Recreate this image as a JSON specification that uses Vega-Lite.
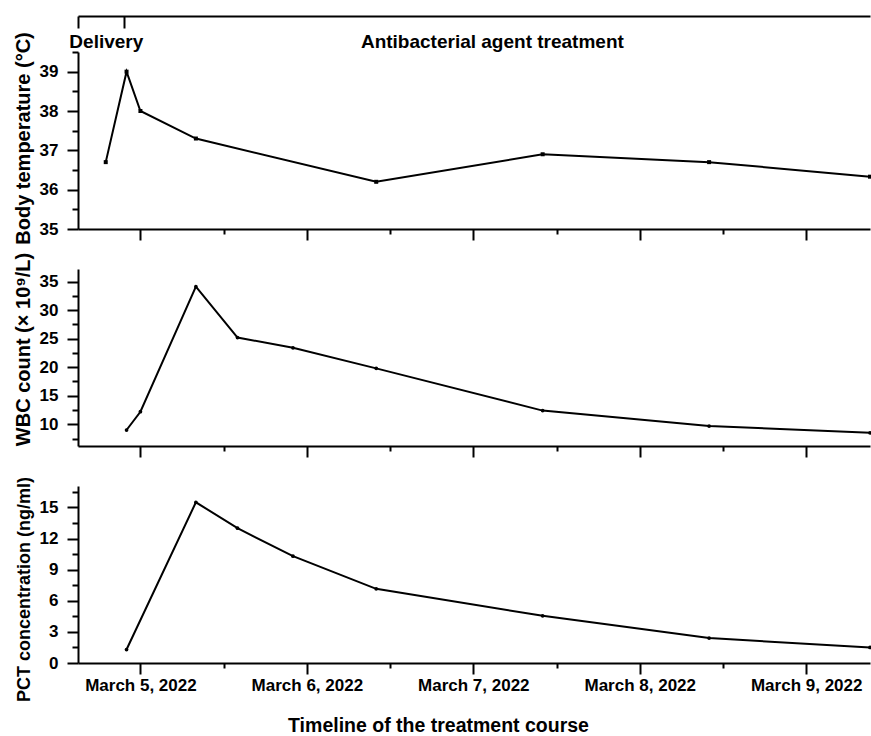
{
  "$schema": "https://vega.github.io/schema/vega-lite/v6.json",
  "padding": {"left": 13, "top": 15, "right": 0, "bottom": 0},
  "bounds": "flush",
  "spacing": 40,
  "datasets": {
    "temperature": [
      {"time": "2022-03-04T19:00", "temperature": 36.7},
      {"time": "2022-03-04T22:00", "temperature": 39.0},
      {"time": "2022-03-05T00:00", "temperature": 38.0},
      {"time": "2022-03-05T08:00", "temperature": 37.3},
      {"time": "2022-03-06T10:00", "temperature": 36.2},
      {"time": "2022-03-07T10:00", "temperature": 36.9},
      {"time": "2022-03-08T10:00", "temperature": 36.7},
      {"time": "2022-03-09T09:12", "temperature": 36.33}
    ],
    "wbc": [
      {"time": "2022-03-04T22:00", "wbc": 9.0},
      {"time": "2022-03-05T00:00", "wbc": 12.2},
      {"time": "2022-03-05T08:00", "wbc": 34.1},
      {"time": "2022-03-05T14:00", "wbc": 25.2},
      {"time": "2022-03-05T22:00", "wbc": 23.4},
      {"time": "2022-03-06T10:00", "wbc": 19.8},
      {"time": "2022-03-07T10:00", "wbc": 12.4},
      {"time": "2022-03-08T10:00", "wbc": 9.7},
      {"time": "2022-03-09T09:12", "wbc": 8.5}
    ],
    "pct": [
      {"time": "2022-03-04T22:00", "pct": 1.3},
      {"time": "2022-03-05T08:00", "pct": 15.5},
      {"time": "2022-03-05T14:00", "pct": 13.0},
      {"time": "2022-03-05T22:00", "pct": 10.3},
      {"time": "2022-03-06T10:00", "pct": 7.15},
      {"time": "2022-03-07T10:00", "pct": 4.55},
      {"time": "2022-03-08T10:00", "pct": 2.4},
      {"time": "2022-03-09T09:12", "pct": 1.5}
    ],
    "notes": [
      {"time": "2022-03-04T19:05", "level": 39.61, "label": "Delivery"},
      {"time": "2022-03-07T02:45", "level": 39.61, "label": "Antibacterial agent treatment"}
    ]
  },
  "config": {
    "font": "Liberation Sans",
    "view": {"stroke": null},
    "axis": {
      "grid": false,
      "domainColor": "black",
      "domainWidth": 2,
      "tickColor": "black",
      "tickWidth": 2,
      "labelColor": "black",
      "titleColor": "black",
      "labelFont": "Liberation Sans",
      "titleFont": "Liberation Sans",
      "labelFontWeight": "bold",
      "titleFontWeight": "bold",
      "labelFontSize": 17,
      "titleFontSize": 19.5,
      "labelOverlap": false,
      "titleLimit": 400
    }
  },
  "vconcat": [
    {
      "width": 792,
      "height": 177,
      "layer": [
        {
          "data": {"name": "temperature"},
          "mark": {"type": "line", "color": "black", "strokeWidth": 2, "point": {"shape": "square", "size": 16, "color": "black", "filled": true}},
          "encoding": {
            "x": {"field": "time", "type": "temporal",
              "scale": {"domain": [{"year": 2022, "month": 3, "date": 4, "hours": 15}, {"year": 2022, "month": 3, "date": 9, "hours": 9, "minutes": 12}], "nice": false},
              "axis": {"orient": "bottom", "values": [{"year": 2022, "month": 3, "date": 5}, {"year": 2022, "month": 3, "date": 6}, {"year": 2022, "month": 3, "date": 7}, {"year": 2022, "month": 3, "date": 8}, {"year": 2022, "month": 3, "date": 9}], "tickSize": 11, "labels": false, "title": null}},
            "y": {"field": "temperature", "type": "quantitative",
              "scale": {"domain": [35, 39.5], "nice": false, "zero": false},
              "axis": {"orient": "left", "values": [35, 36, 37, 38, 39], "format": "d", "tickSize": 11, "labelPadding": 9, "minExtent": 39, "maxExtent": 39, "titlePadding": 6, "titleFontSize": 20, "titleY": 86, "title": "Body temperature (°C)"}}
          }
        },
        {
          "data": {"name": "temperature"},
          "mark": {"type": "point", "opacity": 0},
          "encoding": {
            "x": {"field": "time", "type": "temporal",
              "scale": {"domain": [{"year": 2022, "month": 3, "date": 4, "hours": 15}, {"year": 2022, "month": 3, "date": 9, "hours": 9, "minutes": 12}], "nice": false},
              "axis": {"orient": "bottom", "values": [{"year": 2022, "month": 3, "date": 5, "hours": 12}, {"year": 2022, "month": 3, "date": 6, "hours": 12}, {"year": 2022, "month": 3, "date": 7, "hours": 12}, {"year": 2022, "month": 3, "date": 8, "hours": 12}], "tickSize": 5, "labels": false, "domain": false, "title": null}},
            "y": {"field": "temperature", "type": "quantitative",
              "scale": {"domain": [35, 39.5], "nice": false, "zero": false},
              "axis": {"orient": "left", "values": [35.5, 36.5, 37.5, 38.5, 39.5], "tickSize": 6, "labels": false, "domain": false, "title": null}}
          }
        },
        {
          "data": {"name": "temperature"},
          "mark": {"type": "point", "opacity": 0},
          "encoding": {
            "x": {"field": "time", "type": "temporal",
              "scale": {"domain": [{"year": 2022, "month": 3, "date": 4, "hours": 15}, {"year": 2022, "month": 3, "date": 9, "hours": 9, "minutes": 12}], "nice": false},
              "axis": {"orient": "top", "offset": 36, "values": [{"year": 2022, "month": 3, "date": 4, "hours": 15}, {"year": 2022, "month": 3, "date": 4, "hours": 21, "minutes": 40}], "tickSize": -12, "labels": false, "domain": true, "title": null}},
            "y": {"field": "temperature", "type": "quantitative", "scale": {"domain": [35, 39.5], "nice": false, "zero": false}, "axis": null}
          }
        },
        {
          "data": {"name": "notes"},
          "mark": {"type": "text", "font": "Liberation Sans", "fontWeight": "bold", "fontSize": 19, "align": "center", "baseline": "alphabetic", "color": "black"},
          "encoding": {
            "x": {"field": "time", "type": "temporal", "scale": {"domain": [{"year": 2022, "month": 3, "date": 4, "hours": 15}, {"year": 2022, "month": 3, "date": 9, "hours": 9, "minutes": 12}], "nice": false}, "axis": null},
            "y": {"field": "level", "type": "quantitative", "scale": {"domain": [35, 39.5], "nice": false, "zero": false}, "axis": null},
            "text": {"field": "label"}
          }
        }
      ],
      "resolve": {"axis": {"x": "independent", "y": "independent"}}
    },
    {
      "width": 792,
      "height": 177,
      "layer": [
        {
          "data": {"name": "wbc"},
          "mark": {"type": "line", "color": "black", "strokeWidth": 2, "point": {"shape": "circle", "size": 14, "color": "black", "filled": true}},
          "encoding": {
            "x": {"field": "time", "type": "temporal",
              "scale": {"domain": [{"year": 2022, "month": 3, "date": 4, "hours": 15}, {"year": 2022, "month": 3, "date": 9, "hours": 9, "minutes": 12}], "nice": false},
              "axis": {"orient": "bottom", "values": [{"year": 2022, "month": 3, "date": 5}, {"year": 2022, "month": 3, "date": 6}, {"year": 2022, "month": 3, "date": 7}, {"year": 2022, "month": 3, "date": 8}, {"year": 2022, "month": 3, "date": 9}], "tickSize": 11, "labels": false, "title": null}},
            "y": {"field": "wbc", "type": "quantitative",
              "scale": {"domain": [6.2, 37.2], "nice": false, "zero": false},
              "axis": {"orient": "left", "values": [10, 15, 20, 25, 30, 35], "format": "d", "tickSize": 11, "labelPadding": 9, "minExtent": 39, "maxExtent": 39, "titlePadding": 6, "titleFontSize": 20, "titleY": 80, "title": "WBC count (× 10⁹/L)"}}
          }
        },
        {
          "data": {"name": "wbc"},
          "mark": {"type": "point", "opacity": 0},
          "encoding": {
            "x": {"field": "time", "type": "temporal",
              "scale": {"domain": [{"year": 2022, "month": 3, "date": 4, "hours": 15}, {"year": 2022, "month": 3, "date": 9, "hours": 9, "minutes": 12}], "nice": false},
              "axis": {"orient": "bottom", "values": [{"year": 2022, "month": 3, "date": 5, "hours": 12}, {"year": 2022, "month": 3, "date": 6, "hours": 12}, {"year": 2022, "month": 3, "date": 7, "hours": 12}, {"year": 2022, "month": 3, "date": 8, "hours": 12}], "tickSize": 5, "labels": false, "domain": false, "title": null}},
            "y": {"field": "wbc", "type": "quantitative",
              "scale": {"domain": [6.2, 37.2], "nice": false, "zero": false},
              "axis": {"orient": "left", "values": [7.5, 12.5, 17.5, 22.5, 27.5, 32.5], "tickSize": 6, "labels": false, "domain": false, "title": null}}
          }
        }
      ],
      "resolve": {"axis": {"x": "independent", "y": "independent"}}
    },
    {
      "width": 792,
      "height": 177,
      "layer": [
        {
          "data": {"name": "pct"},
          "mark": {"type": "line", "color": "black", "strokeWidth": 2, "point": {"shape": "circle", "size": 14, "color": "black", "filled": true}},
          "encoding": {
            "x": {"field": "time", "type": "temporal",
              "scale": {"domain": [{"year": 2022, "month": 3, "date": 4, "hours": 15}, {"year": 2022, "month": 3, "date": 9, "hours": 9, "minutes": 12}], "nice": false},
              "axis": {"orient": "bottom", "values": [{"year": 2022, "month": 3, "date": 5}, {"year": 2022, "month": 3, "date": 6}, {"year": 2022, "month": 3, "date": 7}, {"year": 2022, "month": 3, "date": 8}, {"year": 2022, "month": 3, "date": 9}], "format": "%B %-d, %Y", "tickSize": 11, "labelPadding": 3, "labelFlush": false, "title": "Timeline of the treatment course", "titleFontSize": 19.5, "titleX": 360, "titleY": 53, "titleBaseline": "top"}},
            "y": {"field": "pct", "type": "quantitative",
              "scale": {"domain": [0, 17.07], "nice": false, "zero": false},
              "axis": {"orient": "left", "values": [0, 3, 6, 9, 12, 15], "format": "d", "tickSize": 11, "labelPadding": 9, "minExtent": 39, "maxExtent": 39, "titlePadding": 6, "titleFontSize": 18, "titleY": 103, "title": "PCT concentration (ng/ml)"}}
          }
        },
        {
          "data": {"name": "pct"},
          "mark": {"type": "point", "opacity": 0},
          "encoding": {
            "x": {"field": "time", "type": "temporal",
              "scale": {"domain": [{"year": 2022, "month": 3, "date": 4, "hours": 15}, {"year": 2022, "month": 3, "date": 9, "hours": 9, "minutes": 12}], "nice": false},
              "axis": {"orient": "bottom", "values": [{"year": 2022, "month": 3, "date": 5, "hours": 12}, {"year": 2022, "month": 3, "date": 6, "hours": 12}, {"year": 2022, "month": 3, "date": 7, "hours": 12}, {"year": 2022, "month": 3, "date": 8, "hours": 12}], "tickSize": 5, "labels": false, "domain": false, "title": null}},
            "y": {"field": "pct", "type": "quantitative",
              "scale": {"domain": [0, 17.07], "nice": false, "zero": false},
              "axis": {"orient": "left", "values": [1.5, 4.5, 7.5, 10.5, 13.5, 16.5], "tickSize": 6, "labels": false, "domain": false, "title": null}}
          }
        }
      ],
      "resolve": {"axis": {"x": "independent", "y": "independent"}}
    }
  ]
}
